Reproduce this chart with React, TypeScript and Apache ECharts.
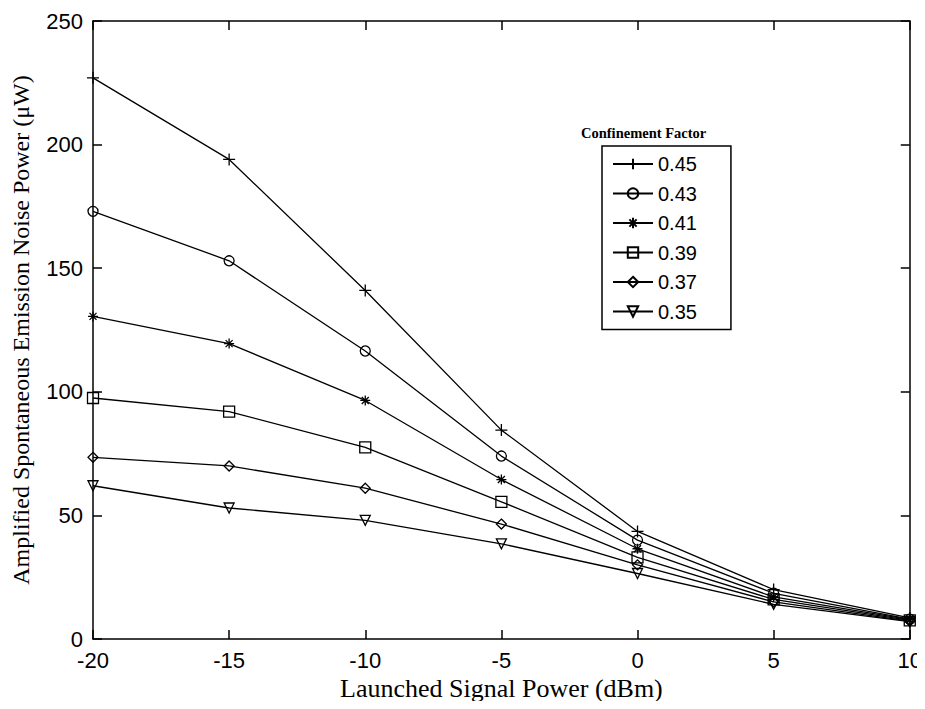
import React, { useEffect, useRef } from "react";
import * as echarts from "echarts";

const xValues = [-20, -15, -10, -5, 0, 5, 10];
const seriesNames = ["0.45", "0.43", "0.41", "0.39", "0.37", "0.35"];
const s045 = [227, 194, 141, 84.5, 43.5, 20, 8.5];
const s043 = [173, 153, 116.5, 74, 40, 18.5, 8];
const s041 = [130.5, 119.5, 96.5, 64.5, 36.5, 17, 7.8];
const s039 = [97.5, 92, 77.5, 55.5, 33, 16, 7.5];
const s037 = [73.5, 70, 61, 46.5, 30, 15, 7.2];
const s035 = [62, 53, 48, 38.5, 26.5, 14, 7];
const seriesValues = [s045, s043, s041, s039, s037, s035];
const symbols = [
  "path://M5,0 L5,10 M0,5 L10,5",
  "circle",
  "path://M5,0 L5,10 M0,5 L10,5 M1.5,1.5 L8.5,8.5 M8.5,1.5 L1.5,8.5",
  "rect",
  "diamond",
  "path://M0,0 L10,0 L5,9 Z",
];
const symbolSizes = [12, 10, 10, 11, 10, 10];

export default function App() {
  const ref = useRef<HTMLDivElement>(null);
  useEffect(() => {
    if (!ref.current) return;
    const chart = echarts.init(ref.current, null, { renderer: "svg" });
    const sans = "'Liberation Sans', Arial, sans-serif";
    const serif = "'Liberation Serif', 'Times New Roman', serif";
    const axisCommon = {
      axisLine: { show: true, onZero: false, lineStyle: { color: "#000", width: 1.5 } },
      axisTick: { show: true, inside: true, length: 9, lineStyle: { color: "#000", width: 1.5 } },
      splitLine: { show: false },
    };
    chart.setOption({
      animation: false,
      backgroundColor: "#fff",
      grid: { left: 93, right: 14, top: 21, bottom: 70, show: false },
      legend: {
        orient: "vertical",
        left: 602,
        top: 146,
        data: seriesNames,
        itemWidth: 40,
        itemHeight: 13,
        itemGap: 9.5,
        padding: [8, 34, 8, 10],
        borderColor: "#000",
        borderWidth: 1.5,
        backgroundColor: "#fff",
        textStyle: { fontFamily: sans, fontSize: 20, color: "#000", lineHeight: 20 },
      },
      graphic: [
        {
          type: "text",
          left: 581,
          top: 125,
          style: {
            text: "Confinement Factor",
            font: "bold 14.5px 'Liberation Serif', 'Times New Roman', serif",
            fill: "#000",
          },
        },
      ],
      xAxis: [
        {
          type: "value",
          min: -20,
          max: 10,
          interval: 5,
          position: "bottom",
          name: "Launched Signal Power (dBm)",
          nameLocation: "middle",
          nameGap: 36,
          nameTextStyle: { fontFamily: serif, fontSize: 26, color: "#000" },
          axisLabel: { fontFamily: sans, fontSize: 22, color: "#000", margin: 10 },
          ...axisCommon,
        },
        {
          type: "value",
          min: -20,
          max: 10,
          interval: 5,
          position: "top",
          axisLabel: { show: false },
          ...axisCommon,
        },
      ],
      yAxis: [
        {
          type: "value",
          min: 0,
          max: 250,
          interval: 50,
          position: "left",
          name: "Amplified Spontaneous Emission Noise Power (\u03bcW)",
          nameLocation: "middle",
          nameGap: 60,
          nameTextStyle: { fontFamily: serif, fontSize: 24, color: "#000" },
          axisLabel: { fontFamily: sans, fontSize: 22, color: "#000", margin: 10 },
          ...axisCommon,
        },
        {
          type: "value",
          min: 0,
          max: 250,
          interval: 50,
          position: "right",
          axisLabel: { show: false },
          ...axisCommon,
        },
      ],
      series: seriesNames.map((name, i) => ({
        name,
        type: "line",
        xAxisIndex: 0,
        yAxisIndex: 0,
        data: xValues.map((x, j) => [x, seriesValues[i][j]]),
        symbol: symbols[i],
        symbolSize: symbolSizes[i],
        showAllSymbol: true,
        lineStyle: { color: "#000", width: 1.3 },
        itemStyle: { color: "rgba(255,255,255,0)", borderColor: "#000", borderWidth: 1.3 },
        emphasis: { disabled: true },
      })),
    });
    return () => chart.dispose();
  }, []);
  return <div ref={ref} style={{ width: 925, height: 709, margin: -8 }} />;
}
